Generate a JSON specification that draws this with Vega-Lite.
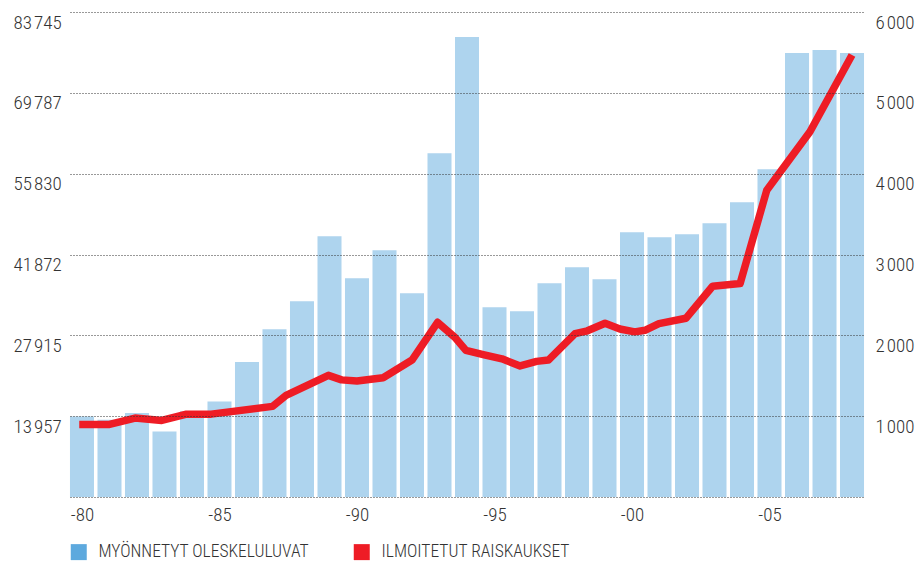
{
  "$schema": "https://vega.github.io/schema/vega-lite/v6.json",
  "width": 794,
  "height": 485,
  "autosize": {"type": "none"},
  "padding": {"left": 70, "top": 12, "right": 60, "bottom": 64},
  "background": "white",
  "config": {
    "view": {"stroke": null},
    "font": "Noto Sans Condensed, Roboto Condensed, Liberation Sans",
    "axis": {"labelColor": "#333333", "labelFontSize": 19, "labelFontWeight": 300, "title": null, "ticks": false, "domain": false, "labelFlush": false}
  },
  "datasets": {
    "bars": [
      {"year": 1980, "permits": 13914, "series": "MYÖNNETYT OLESKELULUVAT"},
      {"year": 1981, "permits": 13345, "series": "MYÖNNETYT OLESKELULUVAT"},
      {"year": 1982, "permits": 14485, "series": "MYÖNNETYT OLESKELULUVAT"},
      {"year": 1983, "permits": 11322, "series": "MYÖNNETYT OLESKELULUVAT"},
      {"year": 1984, "permits": 14800, "series": "MYÖNNETYT OLESKELULUVAT"},
      {"year": 1985, "permits": 16507, "series": "MYÖNNETYT OLESKELULUVAT"},
      {"year": 1986, "permits": 23300, "series": "MYÖNNETYT OLESKELULUVAT"},
      {"year": 1987, "permits": 28952, "series": "MYÖNNETYT OLESKELULUVAT"},
      {"year": 1988, "permits": 33792, "series": "MYÖNNETYT OLESKELULUVAT"},
      {"year": 1989, "permits": 45027, "series": "MYÖNNETYT OLESKELULUVAT"},
      {"year": 1990, "permits": 37768, "series": "MYÖNNETYT OLESKELULUVAT"},
      {"year": 1991, "permits": 42608, "series": "MYÖNNETYT OLESKELULUVAT"},
      {"year": 1992, "permits": 35175, "series": "MYÖNNETYT OLESKELULUVAT"},
      {"year": 1993, "permits": 59374, "series": "MYÖNNETYT OLESKELULUVAT"},
      {"year": 1994, "permits": 79424, "series": "MYÖNNETYT OLESKELULUVAT"},
      {"year": 1995, "permits": 32755, "series": "MYÖNNETYT OLESKELULUVAT"},
      {"year": 1996, "permits": 32064, "series": "MYÖNNETYT OLESKELULUVAT"},
      {"year": 1997, "permits": 36904, "series": "MYÖNNETYT OLESKELULUVAT"},
      {"year": 1998, "permits": 39669, "series": "MYÖNNETYT OLESKELULUVAT"},
      {"year": 1999, "permits": 37595, "series": "MYÖNNETYT OLESKELULUVAT"},
      {"year": 2000, "permits": 45719, "series": "MYÖNNETYT OLESKELULUVAT"},
      {"year": 2001, "permits": 44855, "series": "MYÖNNETYT OLESKELULUVAT"},
      {"year": 2002, "permits": 45374, "series": "MYÖNNETYT OLESKELULUVAT"},
      {"year": 2003, "permits": 47275, "series": "MYÖNNETYT OLESKELULUVAT"},
      {"year": 2004, "permits": 50905, "series": "MYÖNNETYT OLESKELULUVAT"},
      {"year": 2005, "permits": 56609, "series": "MYÖNNETYT OLESKELULUVAT"},
      {"year": 2006, "permits": 76659, "series": "MYÖNNETYT OLESKELULUVAT"},
      {"year": 2007, "permits": 77178, "series": "MYÖNNETYT OLESKELULUVAT"},
      {"year": 2008, "permits": 76659, "series": "MYÖNNETYT OLESKELULUVAT"}
    ],
    "line": [
      {"year": 1979.9, "rapes": 898},
      {"year": 1981.0, "rapes": 898},
      {"year": 1981.93, "rapes": 976},
      {"year": 1982.9, "rapes": 947},
      {"year": 1983.8, "rapes": 1025},
      {"year": 1984.7, "rapes": 1025},
      {"year": 1986.93, "rapes": 1121},
      {"year": 1987.42, "rapes": 1257},
      {"year": 1988.96, "rapes": 1505},
      {"year": 1989.44, "rapes": 1449},
      {"year": 1990.0, "rapes": 1434},
      {"year": 1990.95, "rapes": 1476},
      {"year": 1992.0, "rapes": 1694},
      {"year": 1992.93, "rapes": 2161},
      {"year": 1993.56, "rapes": 1975},
      {"year": 1993.96, "rapes": 1814},
      {"year": 1994.59, "rapes": 1761},
      {"year": 1995.27, "rapes": 1709},
      {"year": 1995.93, "rapes": 1622},
      {"year": 1996.53, "rapes": 1678},
      {"year": 1996.96, "rapes": 1694},
      {"year": 1997.93, "rapes": 2021},
      {"year": 1998.38, "rapes": 2056},
      {"year": 1999.02, "rapes": 2149},
      {"year": 1999.56, "rapes": 2078},
      {"year": 2000.1, "rapes": 2043},
      {"year": 2000.47, "rapes": 2062},
      {"year": 2000.98, "rapes": 2145},
      {"year": 2001.96, "rapes": 2211},
      {"year": 2002.93, "rapes": 2607},
      {"year": 2003.93, "rapes": 2640},
      {"year": 2004.9, "rapes": 3796},
      {"year": 2006.47, "rapes": 4518},
      {"year": 2008.0, "rapes": 5468}
    ]
  },
  "layer": [
    {
      "data": {"name": "bars"},
      "mark": {"type": "bar", "size": 24, "opacity": 0.5},
      "encoding": {
        "x": {
          "field": "year", "type": "quantitative",
          "scale": {"domain": [1979.564, 2008.436], "nice": false, "zero": false, "padding": 0},
          "axis": {
            "values": [1980, 1985, 1990, 1995, 2000, 2005],
            "labelExpr": "'-' + slice(toString(datum.value), 2)",
            "grid": false, "labelPadding": 8
          }
        },
        "y": {
          "field": "permits", "type": "quantitative",
          "scale": {"domain": [0, 83745], "nice": false, "padding": 0},
          "axis": {
            "orient": "left",
            "values": [0, 13957, 27915, 41872, 55830, 69787, 83745],
            "labelExpr": "datum.value == 0 ? '' : replace(format(datum.value, ','), ',', '\u200A')",
            "grid": true, "gridDash": [1, 2], "gridColor": "#333333", "gridOpacity": 1, "gridWidth": 1,
            "zindex": 1,
            "labelAlign": "left", "labelPadding": 57, "labelBaseline": "top", "labelOffset": 1
          }
        },
        "color": {
          "field": "series", "type": "nominal",
          "scale": {"domain": ["MYÖNNETYT OLESKELULUVAT", "ILMOITETUT RAISKAUKSET"], "range": ["#5DA9DE", "#EE1C25"]},
          "legend": {
            "orient": "none", "legendX": 0, "legendY": 531, "direction": "horizontal",
            "title": null, "symbolType": "square", "symbolSize": 256, "symbolOpacity": 1,
            "symbolStrokeWidth": 0, "labelFontSize": 17.5, "labelFontWeight": 300, "labelColor": "#333333",
            "labelOffset": 11, "columnPadding": 44, "labelLimit": 400
          }
        }
      }
    },
    {
      "data": {"name": "line"},
      "mark": {"type": "line", "color": "#EE1C25", "strokeWidth": 7.5, "strokeJoin": "round"},
      "encoding": {
        "x": {"field": "year", "type": "quantitative"},
        "y": {
          "field": "rapes", "type": "quantitative",
          "scale": {"domain": [0, 6000], "nice": false},
          "axis": {
            "orient": "right",
            "values": [1000, 2000, 3000, 4000, 5000, 6000],
            "labelExpr": "replace(format(datum.value, ','), ',', '\u200A')",
            "grid": false, "labelAlign": "left", "labelPadding": 11, "labelBaseline": "top", "labelOffset": 1
          }
        }
      }
    }
  ],
  "resolve": {"scale": {"y": "independent"}}
}
